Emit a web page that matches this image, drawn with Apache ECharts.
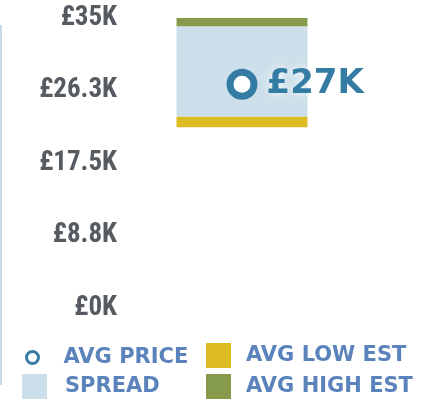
<!DOCTYPE html>
<html>
<head>
<meta charset="utf-8">
<script src="https://cdn.jsdelivr.net/npm/echarts@6/dist/echarts.min.js"></script>
<style>
html, body { margin: 0; padding: 0; background: #fff; }
#chart { width: 444px; height: 410px; }
</style>
</head>
<body>
<div id="chart"></div>
<script>
// values (GBP)
var categories = ['Lot'];
var avgPrice = [27000];
var lowEstBand = [[21800, 23100]];   // yellow band: from, to
var highEstBand = [[34000, 35000]];  // green band: from, to
var tickLabels = ['£0K', '£8.8K', '£17.5K', '£26.3K', '£35K'];
var priceLabels = ['£27K'];

var base = lowEstBand.map(function (b) { return b[0]; });
var lowPart = lowEstBand.map(function (b) { return b[1] - b[0]; });
var spreadPart = lowEstBand.map(function (b, i) { return highEstBand[i][0] - b[1]; });
var highPart = highEstBand.map(function (b) { return b[1] - b[0]; });

var legendFont = { color: '#5b83bb', fontFamily: 'DejaVu Sans', fontWeight: 'bold', fontSize: 21 };

var myChart = echarts.init(document.getElementById('chart'));
var option = {
    animation: false,
    grid: { left: 127, right: 87, top: 18, bottom: 102 },
    xAxis: {
        type: 'category',
        data: categories,
        show: false
    },
    yAxis: {
        type: 'value',
        min: 0,
        max: 35000,
        interval: 8750,
        axisLine: { show: false },
        axisTick: { show: false },
        splitLine: { show: false },
        axisLabel: {
            margin: 10,
            color: '#555b61',
            fontFamily: '"Roboto Condensed", "Liberation Sans Narrow", Roboto',
            fontWeight: 'bold',
            fontSize: 27,
            formatter: function (v, i) { return tickLabels[i]; }
        }
    },
    graphic: [
        { type: 'rect', left: 0, top: 25, shape: { width: 2, height: 360 }, style: { fill: '#c9d8ea' } }
    ],
    legend: [
        {
            left: 25, top: 347, padding: 0, itemWidth: 12, itemHeight: 12,
            data: [{ name: 'AVG PRICE', icon: 'circle', itemStyle: { color: '#fff', borderColor: '#357ca5', borderWidth: 3 } }],
            textStyle: Object.assign({ padding: [0, 0, 0, 20] }, legendFont)
        },
        {
            left: 22, top: 374, padding: 0, itemWidth: 25, itemHeight: 25,
            data: [{ name: 'SPREAD', icon: 'rect' }],
            textStyle: Object.assign({ padding: [0, 0, 0, 13] }, legendFont)
        },
        {
            left: 206, top: 343, padding: 0, itemWidth: 25, itemHeight: 25,
            data: [{ name: 'AVG LOW EST', icon: 'rect' }],
            textStyle: Object.assign({ padding: [0, 0, 0, 10] }, legendFont)
        },
        {
            left: 206, top: 374, padding: 0, itemWidth: 25, itemHeight: 25,
            data: [{ name: 'AVG HIGH EST', icon: 'rect' }],
            textStyle: Object.assign({ padding: [0, 0, 0, 10] }, legendFont)
        }
    ],
    series: [
        {
            name: 'base',
            type: 'bar',
            stack: 'range',
            barWidth: 131,
            itemStyle: { color: 'transparent' },
            silent: true,
            data: base
        },
        {
            name: 'AVG LOW EST',
            type: 'bar',
            stack: 'range',
            barWidth: 131,
            itemStyle: { color: '#dcbc22' },
            data: lowPart
        },
        {
            name: 'SPREAD',
            type: 'bar',
            stack: 'range',
            barWidth: 131,
            itemStyle: { color: '#cddfea' },
            data: spreadPart
        },
        {
            name: 'AVG HIGH EST',
            type: 'bar',
            stack: 'range',
            barWidth: 131,
            itemStyle: { color: '#869a4c' },
            data: highPart
        },
        {
            name: 'AVG PRICE',
            type: 'scatter',
            symbol: 'circle',
            symbolSize: 24,
            itemStyle: { color: '#fff', borderColor: '#357ca5', borderWidth: 7, opacity: 1 },
            label: {
                show: true,
                position: 'right',
                distance: 9,
                color: '#357ca5',
                fontFamily: 'DejaVu Sans',
                fontWeight: 'bold',
                fontSize: 34,
                textShadowColor: 'rgba(255,255,255,0.9)',
                textShadowBlur: 8,
                formatter: function (p) { return priceLabels[p.dataIndex]; }
            },
            data: avgPrice
        }
    ]
};
myChart.setOption(option);
</script>
</body>
</html>
